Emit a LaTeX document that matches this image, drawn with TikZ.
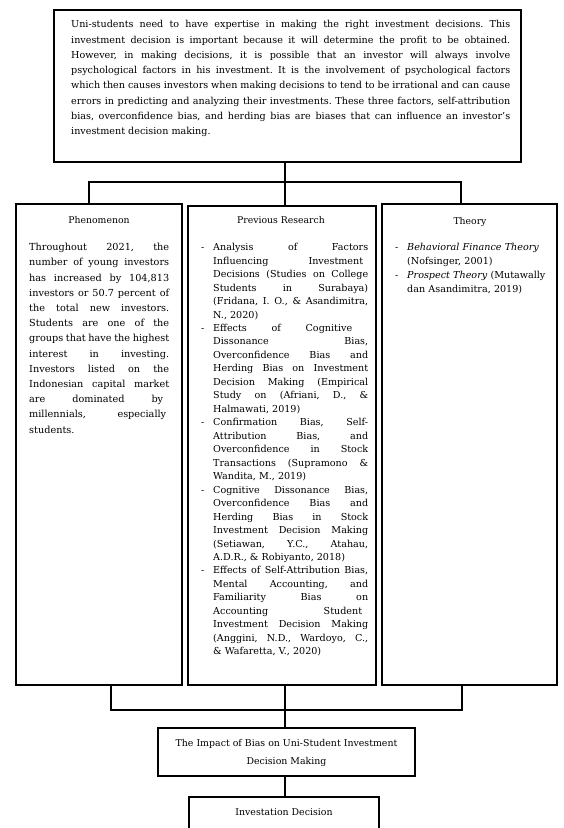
\documentclass[tikz,border=0pt]{standalone}
\usepackage{fontspec}
\setmainfont{DejaVu Serif}
\tikzset{
  boxnode/.style={draw, line width=1.1pt, inner sep=0, rectangle},
  link/.style={line width=1.1pt},
  bodytext/.style={inner sep=0, anchor=north west, align=justify},
  titletext/.style={inner sep=0, anchor=base, font=\fontsize{9.3}{11}\selectfont},
}
\newcommand{\fsize}[2]{\fontsize{#1}{#2}\selectfont\frenchspacing\parindent=0pt\relax}
\newcommand{\dashitem}{\noindent\llap{\makebox[12pt][l]{-}}}
\newcommand{\st}{\rule{0pt}{8pt}}
\begin{document}
\begin{tikzpicture}[x=1pt,y=-1pt]
\clip (0,0) rectangle (564,828);
\fill[white] (0,0) rectangle (564,828);

% boxes
\node[boxnode, minimum width=467pt, minimum height=152pt] (top) at (287.5,86) {};
\node[boxnode, minimum width=166pt, minimum height=481pt] (phen) at (99,444.5) {};
\node[boxnode, minimum width=188pt, minimum height=479pt] (prev) at (282,445.5) {};
\node[boxnode, minimum width=175pt, minimum height=481pt] (theo) at (469.5,444.5) {};
\node[boxnode, minimum width=257pt, minimum height=48pt] (impact) at (286.5,752) {};
\node[boxnode, minimum width=190pt, minimum height=60pt] (inv) at (284,827) {};

% connector coordinates
\coordinate (busT) at (285,182);
\coordinate (dropTL) at (89,182);
\coordinate (dropTR) at (461,182);
\coordinate (busB) at (285,710);
\coordinate (dropBL) at (111,710);
\coordinate (dropBR) at (462,710);

\draw[link] (top.south -| busT) -- (busT);
\draw[link] (phen.north -| dropTL) -- (dropTL) -- (dropTR) -- (theo.north -| dropTR);
\draw[link] (busT) -- (prev.north -| busT);
\draw[link] (phen.south -| dropBL) -- (dropBL) -- (dropBR) -- (theo.south -| dropBR);
\draw[link] (prev.south -| busB) -- (busB) -- (impact.north -| busB);
\draw[link] (impact.south -| busB) -- (inv.north -| busB);

% top text
\node[bodytext, text width=439pt, font=\fsize{9.6}{15.3}] (toptext) at (71,19.5) {\st
Uni-students need to have expertise in making the right investment decisions. This\linebreak
investment decision is important because it will determine the profit to be obtained.\linebreak
However, in making decisions, it is possible that an investor will always involve\linebreak
psychological factors in his investment. It is the involvement of psychological factors\linebreak
which then causes investors when making decisions to tend to be irrational and can cause\linebreak
errors in predicting and analyzing their investments. These three factors, self-attribution\linebreak
bias, overconfidence bias, and herding bias are biases that can influence an investor's\linebreak
investment decision making.};

% titles
\node[titletext] (phentitle) at (99,223.5) {Phenomenon};
\node[titletext] (prevtitle) at (281,223.5) {Previous Research};
\node[titletext] (theotitle) at (470,224) {Theory};

% phenomenon body
\node[bodytext, text width=140pt, font=\fsize{9.7}{15.2}] (phenbody) at (29,242.5) {\st
Throughout 2021, the\linebreak
number of young investors\linebreak
has increased by 104,813\linebreak
investors or 50.7 percent of\linebreak
the total new investors.\linebreak
Students are one of the\linebreak
groups that have the highest\linebreak
interest in investing.\linebreak
Investors listed on the\linebreak
Indonesian capital market\linebreak
are dominated by\hspace*{6pt}\linebreak
millennials, especially\hspace*{3pt}\linebreak
students.};

% previous research body
\node[bodytext, text width=155pt, font=\fsize{9.6}{13.47}] (prevbody) at (213,242.5) {%
\dashitem\st Analysis of Factors\linebreak
Influencing Investment\hspace*{5pt}\linebreak
Decisions (Studies on College\linebreak
Students in Surabaya)\linebreak
(Fridana, I. O., \& Asandimitra,\linebreak
N., 2020)\par
\dashitem Effects of Cognitive\hspace*{16pt}\linebreak
Dissonance Bias,\linebreak
Overconfidence Bias and\linebreak
Herding Bias on Investment\linebreak
Decision Making (Empirical\linebreak
Study on (Afriani, D., \&\linebreak
Halmawati, 2019)\par
\dashitem Confirmation Bias, Self-\linebreak
Attribution Bias, and\linebreak
Overconfidence in Stock\linebreak
Transactions (Supramono \&\linebreak
Wandita, M., 2019)\par
\dashitem Cognitive Dissonance Bias,\linebreak
Overconfidence Bias and\linebreak
Herding Bias in Stock\linebreak
Investment Decision Making\linebreak
(Setiawan, Y.C., Atahau,\linebreak
A.D.R., \& Robiyanto, 2018)\par
\dashitem Effects of Self-Attribution Bias,\linebreak
Mental Accounting, and\linebreak
Familiarity Bias on\linebreak
Accounting Student\hspace*{6pt}\linebreak
Investment Decision Making\linebreak
(Anggini, N.D., Wardoyo, C.,\linebreak
\& Wafaretta, V., 2020)};

% theory body
\node[bodytext, text width=145pt, align=left, font=\fsize{9.6}{14}] (theobody) at (407,242.5) {%
\dashitem\st\textit{Behavioral Finance Theory}\\
(Nofsinger, 2001)\par
\dashitem\textit{Prospect Theory} (Mutawally\\
dan Asandimitra, 2019)};

% impact and decision
\node[inner sep=0, align=center, font=\fontsize{9.4}{18}\selectfont] (impacttext) at (286.5,753)
  {The Impact of Bias on Uni-Student Investment\\Decision Making};
\node[titletext, font=\fontsize{9.4}{11}\selectfont] (invtext) at (284,815.5) {Investation Decision};
\end{tikzpicture}
\end{document}
